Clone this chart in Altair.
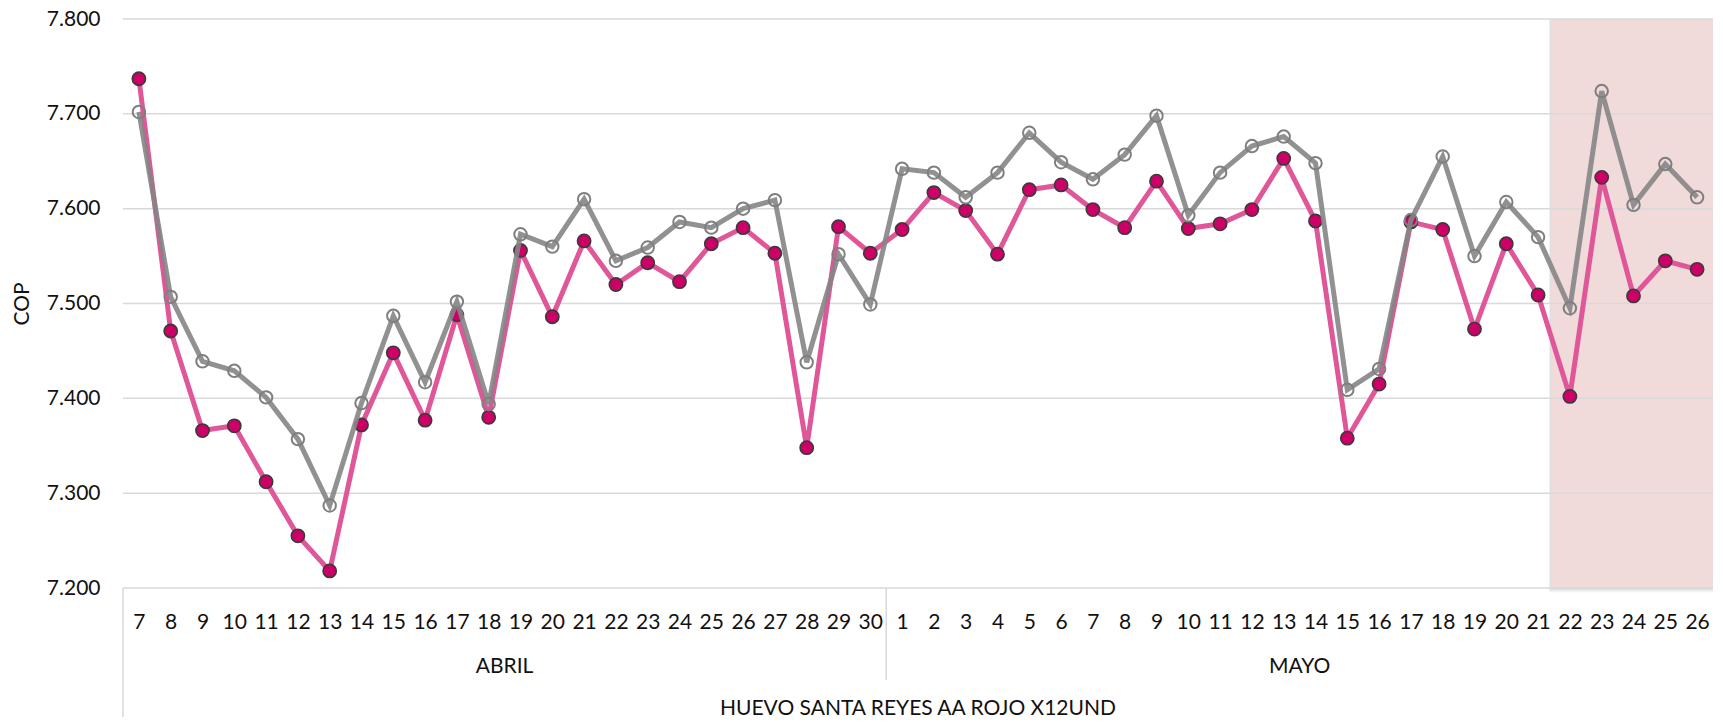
import altair as alt
import pandas as pd

# ---------------- data ----------------
meses = ["ABRIL", "MAYO"]
dias_abril = [7, 8, 9, 10, 11, 12, 13, 14, 15, 16, 17, 18, 19, 20, 21, 22, 23, 24, 25, 26, 27, 28, 29, 30]
dias_mayo = [1, 2, 3, 4, 5, 6, 7, 8, 9, 10, 11, 12, 13, 14, 15, 16, 17, 18, 19, 20, 21, 22, 23, 24, 25, 26]

rosa_abril = [7737, 7471, 7366, 7371, 7312, 7255, 7218, 7372, 7448, 7377, 7488, 7380,
              7556, 7486, 7566, 7520, 7543, 7523, 7563, 7580, 7553, 7348, 7581, 7553]
gris_abril = [7702, 7507, 7439, 7429, 7401, 7357, 7287, 7395, 7487, 7417, 7502, 7394,
              7573, 7560, 7610, 7545, 7559, 7586, 7580, 7600, 7609, 7438, 7552, 7499]
rosa_mayo = [7578, 7617, 7598, 7552, 7620, 7625, 7599, 7580, 7629, 7579, 7584, 7599, 7653,
             7587, 7358, 7415, 7586, 7578, 7473, 7563, 7509, 7402, 7633, 7508, 7545, 7536]
gris_mayo = [7642, 7638, 7612, 7638, 7680, 7649, 7631, 7657, 7698, 7593, 7638, 7666, 7676,
             7648, 7409, 7431, 7588, 7655, 7550, 7607, 7570, 7495, 7724, 7604, 7647, 7612]

producto = "HUEVO SANTA REYES AA ROJO X12UND"
eje_y = "COP"
y_ticks = [7200, 7300, 7400, 7500, 7600, 7700, 7800]
sombra_desde = ("MAYO", 22)

# ---------------- tables ----------------
rows = []
for mes, dias, rosa, gris in [("ABRIL", dias_abril, rosa_abril, gris_abril),
                              ("MAYO", dias_mayo, rosa_mayo, gris_mayo)]:
    for d, r, g in zip(dias, rosa, gris):
        rows.append({"mes": mes, "dia": d, "rosa": r, "gris": g})
df = pd.DataFrame(rows)
df["idx"] = range(len(df))
n = len(df)

long = pd.concat([
    pd.DataFrame({"idx": df["idx"], "serie": "rosa", "value": df["rosa"]}),
    pd.DataFrame({"idx": df["idx"], "serie": "gris", "value": df["gris"]}),
])

labels = [str(d) for d in df["dia"]]
label_expr = "[" + ",".join("'" + l + "'" for l in labels) + "][datum.value]"

ymin, ymax = min(y_ticks), max(y_ticks)
s0 = int(df[(df.mes == sombra_desde[0]) & (df.dia == sombra_desde[1])]["idx"].iloc[0]) - 0.5
shade_df = pd.DataFrame([{"idx": s0 - 0.1, "idx2": n - 0.5, "value": ymin, "value2": ymax}])
shadow_df = pd.DataFrame([
    {"idx": s0 - 0.16, "idx2": n - 0.5, "value": ymin - 4.5, "value2": ymax - 1, "o": 0.05},
    {"idx": s0 - 0.13, "idx2": n - 0.5, "value": ymin - 2.5, "value2": ymax, "o": 0.07},
])
grid_df = pd.DataFrame({"value": y_ticks})

month_df = df.groupby("mes", sort=False)["idx"].mean().reset_index()
month_df["label"] = month_df["mes"]
sep_df = pd.DataFrame({"idx": [-0.5] + [float(df[df.mes == m]["idx"].min()) - 0.5 for m in meses[1:]],
                       "kind": ["left"] + ["sep"] * (len(meses) - 1)})
title_df = pd.DataFrame([{"idx": (n - 1) / 2, "label": producto}])

FONT = "Lato"
TXT = "#111111"
W, H = 1590, 569

X = alt.X("idx:Q",
          scale=alt.Scale(domain=[-0.5, n - 0.5], nice=False, zero=False),
          axis=alt.Axis(values=list(range(n)), labelExpr=label_expr, grid=False, ticks=False,
                        domain=False, labelPadding=23, labelFontSize=21, labelFont=FONT,
                        labelColor=TXT, labelOverlap=False, labelFlush=False, title=None))
Y = alt.Y("value:Q",
          scale=alt.Scale(domain=[ymin, ymax], nice=False, zero=False),
          axis=alt.Axis(values=y_ticks, labelExpr="replace(format(datum.value, ',.0f'), ',', '.')",
                        grid=False, ticks=False, domain=False, labelPadding=23, labelFontSize=21,
                        labelFont=FONT, labelColor=TXT, title=eje_y, titleFont=FONT,
                        titleFontSize=21, titleFontWeight="normal", titleColor=TXT,
                        titleX=-101, titleY=H / 2, titleAngle=270, titleAlign="center",
                        titleBaseline="middle"))

shadow = alt.Chart(shadow_df).mark_rect(color="#000000").encode(
    x=X, x2="idx2", y=Y, y2="value2", opacity=alt.Opacity("o:Q", scale=None, legend=None))
shade = alt.Chart(shade_df).mark_rect(color="#f0dada").encode(x=X, x2="idx2", y=Y, y2="value2")
grid = alt.Chart(grid_df).mark_rule(color="#d9d9d9", strokeWidth=1.5).encode(y=Y)

left_rule = alt.Chart(sep_df[sep_df.kind == "left"]).mark_rule(color="#d9d9d9", strokeWidth=1.5).encode(
    x=X, y=alt.value(H), y2=alt.value(H + 140))
sep_rule = alt.Chart(sep_df[sep_df.kind == "sep"]).mark_rule(color="#d9d9d9", strokeWidth=1.5).encode(
    x=X, y=alt.value(H), y2=alt.value(H + 92))

month_text = alt.Chart(month_df).mark_text(font=FONT, fontSize=21, color=TXT, baseline="alphabetic").encode(
    x=X, y=alt.value(H + 85), text="label:N")
prod_text = alt.Chart(title_df).mark_text(font=FONT, fontSize=21, color=TXT, baseline="alphabetic").encode(
    x=X, y=alt.value(H + 127), text="label:N")

pink_line = alt.Chart(long).transform_filter(alt.datum.serie == "rosa").mark_line(
    color="#df5699", strokeWidth=5).encode(x=X, y=Y, order="idx:Q")
pink_pts = alt.Chart(long).transform_filter(alt.datum.serie == "rosa").mark_point(
    shape="circle", filled=True, fill="#cc0066", stroke="#3b3b3b", strokeWidth=1.6,
    size=175, opacity=1).encode(x=X, y=Y)
gray_line = alt.Chart(long).transform_filter(alt.datum.serie == "gris").mark_line(
    color="#858585", strokeWidth=5, opacity=0.9).encode(x=X, y=Y, order="idx:Q")
gray_pts = alt.Chart(long).transform_filter(alt.datum.serie == "gris").mark_point(
    shape="circle", filled=False, stroke="#7f7f7f", strokeWidth=2, size=155, opacity=1).encode(x=X, y=Y)

chart = alt.layer(
    shadow, shade, grid, left_rule, sep_rule, month_text, prod_text,
    pink_line, pink_pts, gray_line, gray_pts
).properties(
    width=W, height=H,
    padding={"left": 115, "top": 11, "right": 2, "bottom": 129},
    autosize=alt.AutoSizeParams(type="none"),
    background="white",
).configure_view(stroke=None)

chart.save("out.html", embed_options={"renderer": "svg", "actions": False})
